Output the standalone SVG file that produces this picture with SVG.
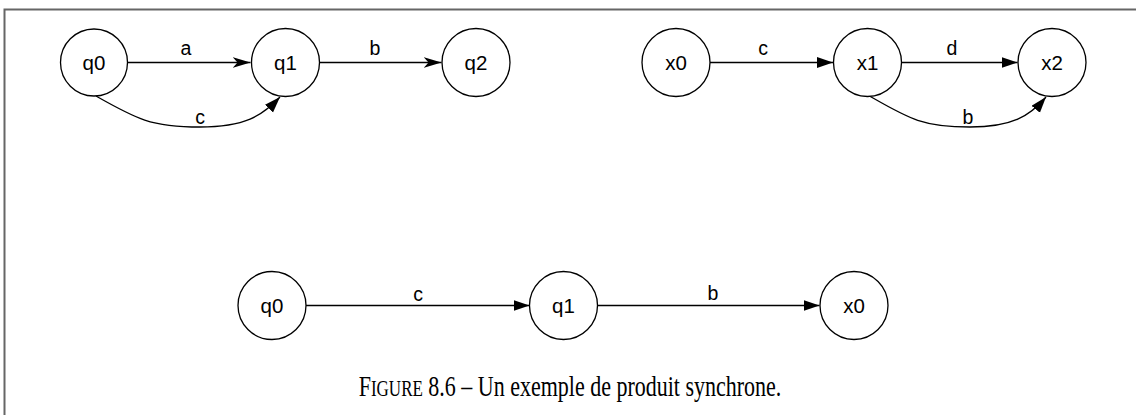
<svg xmlns="http://www.w3.org/2000/svg" width="1136" height="415" viewBox="0 0 1136 415">
  <defs>
    <style>
      .node circle { fill: #ffffff; stroke: #000000; stroke-width: 1.3; }
      .node text { font-family: "Liberation Sans", Arial, sans-serif; font-size: 20.5px; fill: #000; text-anchor: middle; }
      .edge { fill: none; stroke: #000000; stroke-width: 1.3; }
      .lbl { font-family: "Liberation Sans", Arial, sans-serif; font-size: 19.5px; fill: #000; text-anchor: middle; }
      .caption { font-family: "Liberation Serif", "Times New Roman", serif; font-size: 22px; fill: #000; }
    </style>
    <marker id="open" markerUnits="userSpaceOnUse" markerWidth="20" markerHeight="13" refX="18" refY="5.5" orient="auto" viewBox="0 0 20 13">
      <path d="M0,0 L18,5.5 L0,11 L5,5.5 Z" fill="#000"/>
    </marker>
    <marker id="block" markerUnits="userSpaceOnUse" markerWidth="18" markerHeight="13" refX="16" refY="5.5" orient="auto" viewBox="0 0 18 13">
      <path d="M0,0 L16,5.5 L0,11 Z" fill="#000"/>
    </marker>
  </defs>
  <rect width="1136" height="415" fill="#ffffff"/>
  <path d="M4.5,415 V9.5 H1136" fill="none" stroke="#666666" stroke-width="2"/>

  <g id="connectors">
    <path class="edge" d="M127.5,62.5 H250.5" marker-end="url(#open)"/>
    <path class="edge" d="M319.5,62.5 H441.5" marker-end="url(#open)"/>
    <path class="edge" d="M96,96 C135,118 150,127 200,127 C245,127 262,116 280,97" marker-end="url(#block)"/>
    <path class="edge" d="M710,62.5 H833" marker-end="url(#block)"/>
    <path class="edge" d="M901.5,62.5 H1017.5" marker-end="url(#block)"/>
    <path class="edge" d="M869.5,96 C908,118 922,127 970,127 C1012,127 1030,116 1046,97" marker-end="url(#block)"/>
    <path class="edge" d="M306,305.5 H529.5" marker-end="url(#block)"/>
    <path class="edge" d="M597,305.5 H819.5" marker-end="url(#block)"/>
    <text class="lbl" x="186" y="55">a</text>
    <text class="lbl" x="375" y="55">b</text>
    <text class="lbl" x="200" y="124">c</text>
    <text class="lbl" x="763" y="55">c</text>
    <text class="lbl" x="952" y="55">d</text>
    <text class="lbl" x="968" y="124">b</text>
    <text class="lbl" x="418" y="301">c</text>
    <text class="lbl" x="713" y="300">b</text>
  </g>

  <g id="A_q0" class="node"><circle cx="94" cy="62.5" r="33.5"/><text x="94" y="70">q0</text></g>
  <g id="A_q1" class="node"><circle cx="285.5" cy="62.5" r="34"/><text x="285.5" y="70">q1</text></g>
  <g id="A_q2" class="node"><circle cx="476" cy="62.5" r="34"/><text x="476" y="70">q2</text></g>

  <g id="B_x0" class="node"><circle cx="676" cy="62.5" r="34"/><text x="676" y="70">x0</text></g>
  <g id="B_x1" class="node"><circle cx="867.5" cy="62.5" r="34"/><text x="867.5" y="70">x1</text></g>
  <g id="B_x2" class="node"><circle cx="1052" cy="62.5" r="34"/><text x="1052" y="70">x2</text></g>

  <g id="P_q0" class="node"><circle cx="272" cy="305.5" r="34"/><text x="272" y="313">q0</text></g>
  <g id="P_q1" class="node"><circle cx="563.5" cy="305.5" r="34"/><text x="563.5" y="313">q1</text></g>
  <g id="P_x0" class="node"><circle cx="854" cy="305.5" r="34"/><text x="854" y="313">x0</text></g>

  <text class="caption" transform="translate(570,396) scale(1,1.3)" x="0" y="0" text-anchor="middle">F<tspan font-size="17">IGURE</tspan> 8.6 – Un exemple de produit synchrone.</text>
</svg>
